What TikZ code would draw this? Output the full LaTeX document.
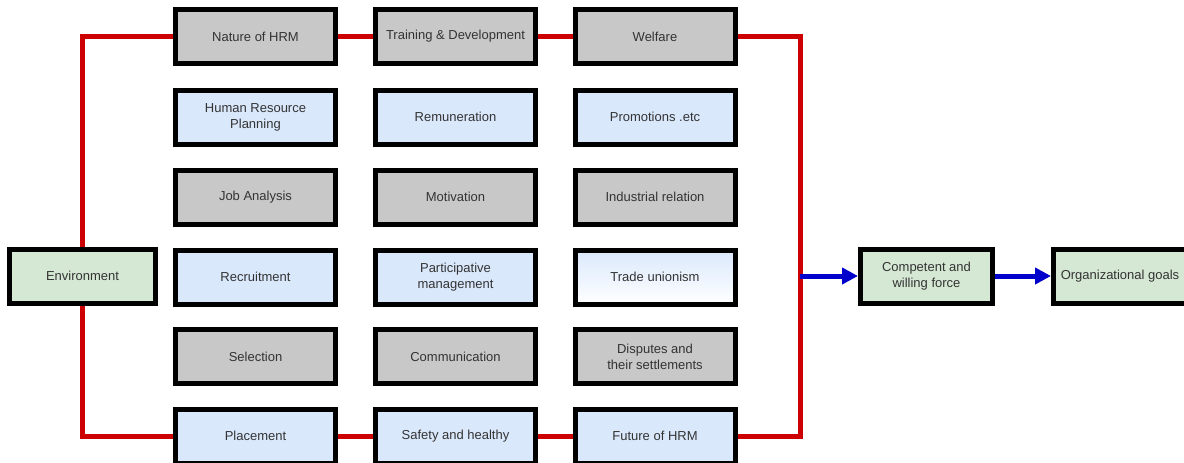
\documentclass[tikz,border=0pt]{standalone}
\usepackage{fontspec}
\setmainfont{Liberation Sans}
\usepackage{tikz}
\usetikzlibrary{arrows.meta,positioning}
\definecolor{hrgrey}{HTML}{C8C8C8}
\definecolor{hrblue}{HTML}{DAE8FC}
\definecolor{hrgreen}{HTML}{D5E8D4}
\definecolor{hrred}{HTML}{CC0000}
\definecolor{hrarrow}{HTML}{0000CC}
\definecolor{hrtext}{HTML}{333333}

\begin{document}
\begin{tikzpicture}[x=1pt,y=-1pt,
  box/.style={rectangle,draw=black,line width=5pt,minimum width=160pt,minimum height=54pt,
    align=center,text=hrtext,font=\fontsize{13}{16}\selectfont},
  greybox/.style={box,fill=hrgrey},
  bluebox/.style={box,fill=hrblue},
  greenbox/.style={box,fill=hrgreen},
  redline/.style={draw=hrred,line width=5pt},
  bluearrow/.style={draw=hrarrow,line width=5pt,-{Triangle[length=16pt,width=16pt]}}]
\useasboundingbox (0,0) rectangle (1184,463);
\begin{scope}
\node[greybox] (hrm)  at (255.5,36.5) {Nature of HRM};
\node[bluebox] (plan) at (255.5,117)  {Human Resource\\Planning};
\node[greybox] (job)  at (255.5,197)  {Job Analysis};
\node[bluebox] (rec)  at (255.5,277)  {Recruitment};
\node[greybox] (sel)  at (255.5,356.5){Selection};
\node[bluebox] (plc)  at (255.5,436)  {Placement};
\end{scope}
\begin{scope}[shift={(200,0)}]
\node[greybox] (trn)  at (255.5,36.5) {Training \& Development};
\node[bluebox] (rem)  at (255.5,117)  {Remuneration};
\node[greybox] (mot)  at (255.5,197)  {Motivation};
\node[bluebox] (part) at (255.5,277)  {Participative\\management};
\node[greybox] (com)  at (255.5,356.5){Communication};
\node[bluebox] (saf)  at (255.5,436)  {Safety and healthy};
\end{scope}
\begin{scope}[shift={(399.5,0)}]
\node[greybox] (wel)  at (255.5,36.5) {Welfare};
\node[bluebox] (pro)  at (255.5,117)  {Promotions .etc};
\node[greybox] (ind)  at (255.5,197)  {Industrial relation};
\node[box,top color=hrblue,bottom color=white] (trd) at (255.5,277) {Trade unionism};
\node[greybox] (dis)  at (255.5,356.5){Disputes and\\their settlements};
\node[bluebox] (fut)  at (255.5,436)  {Future of HRM};
\end{scope}
\node[greenbox,minimum width=146pt] (env) at (82.5,276) {Environment};
\node[greenbox,minimum width=132pt] (cwf) at (926.5,276) {Competent and\\willing force};
\node[greenbox,minimum width=133pt] (org) at (1120,276) {Organizational goals};
\coordinate (jn) at (800,276);
\draw[redline] (env.north) |- (hrm.west);
\draw[redline] (env.south) |- (plc.west);
\draw[redline] (hrm) -- (trn);
\draw[redline] (trn) -- (wel);
\draw[redline] (plc) -- (saf);
\draw[redline] (saf) -- (fut);
\draw[redline] (wel.east) -| (jn) |- (fut.east);
\draw[bluearrow] (jn) -- (cwf.west);
\draw[bluearrow] (cwf) -- (org);
\end{tikzpicture}
\end{document}
